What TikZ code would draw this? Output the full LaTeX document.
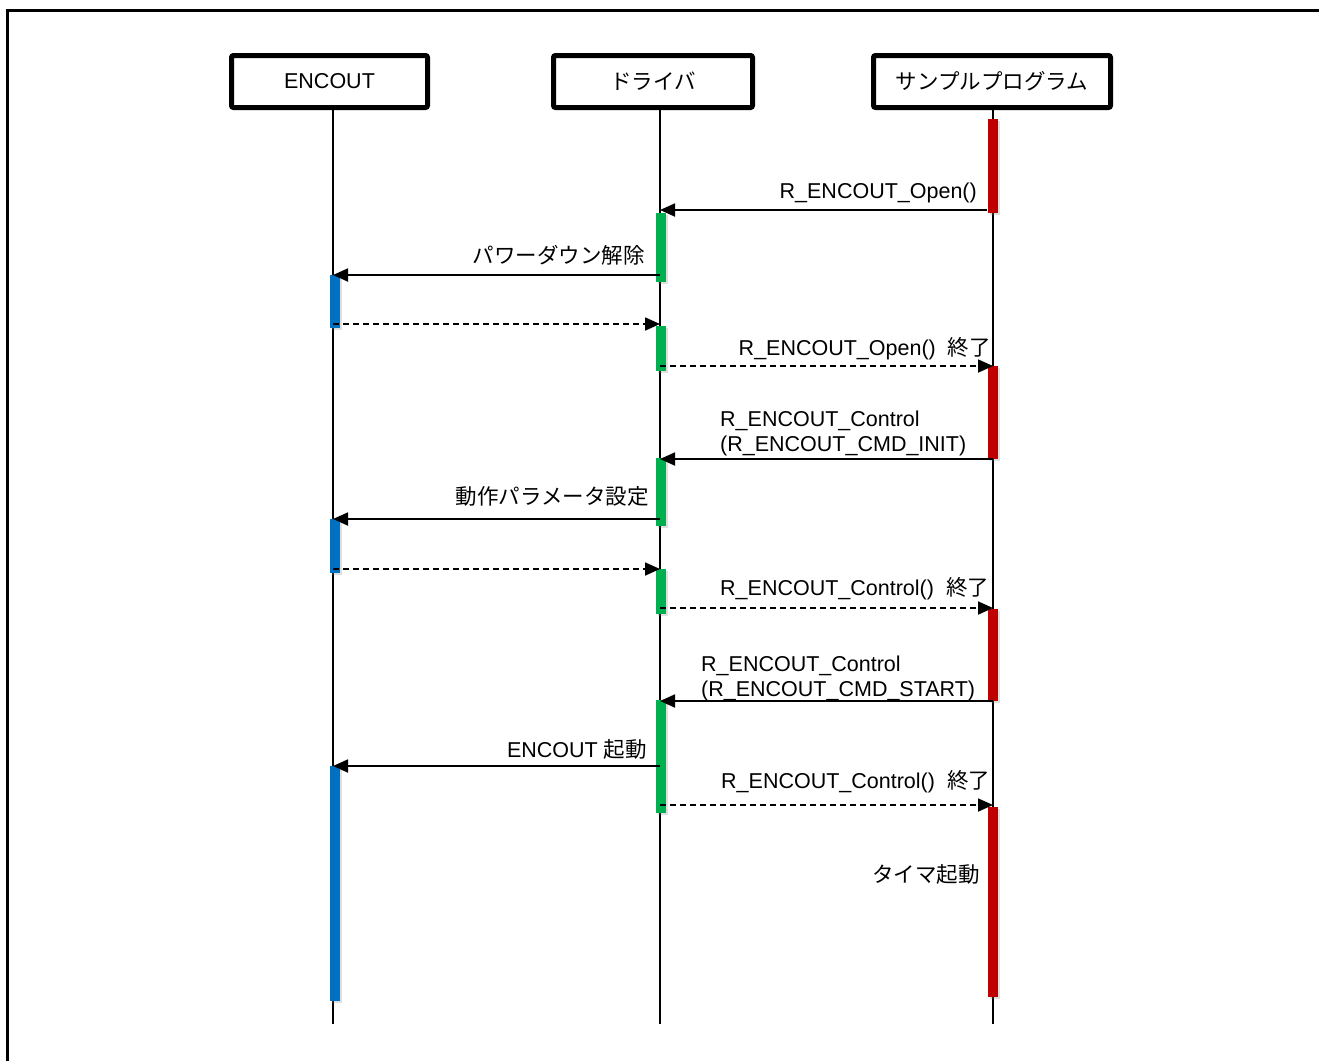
\documentclass[tikz,border=0pt]{standalone}
\usepackage{fontspec}
\setmainfont{Liberation Sans}
\newfontfamily\jp{Noto Sans CJK JP}
\usetikzlibrary{arrows.meta,shadows}
\definecolor{cred}{HTML}{C00000}
\definecolor{cgreen}{HTML}{00B050}
\definecolor{cblue}{HTML}{0070C0}
\begin{document}
\begin{tikzpicture}[x=1pt,y=-1pt,
  every node/.style={font=\fontsize{21.5}{25}\selectfont, inner sep=0pt},
  head/.style={draw, line width=5pt, rounded corners=2pt, minimum height=52pt},
  life/.style={line width=1.8pt},
  actbar/.style={minimum width=10pt, inner sep=0pt, draw=none,
    drop shadow={opacity=0.25, shadow xshift=2pt, shadow yshift=-2pt}},
  redbar/.style={actbar, fill=cred},
  greenbar/.style={actbar, fill=cgreen},
  bluebar/.style={actbar, fill=cblue},
  msg/.style={line width=1.8pt, -{Triangle[length=15pt,width=13pt]}},
  ret/.style={msg, dash pattern=on 6pt off 4pt},
  lbl/.style={align=left}
]
\useasboundingbox (0,0) rectangle (1319,1061);
% frame
\coordinate (frTL) at (7,10);
\coordinate (frTR) at (1319,10);
\coordinate (frBL) at (7,1061);
\draw[line width=3pt] (frBL) -- (frTL) -- (frTR);

% heads
\node[head, minimum width=196pt] (hEnc) at (329.5,81.5) {ENCOUT};
\node[head, minimum width=199pt] (hDrv) at (653,81.5) {\jp ドライバ};
\node[head, minimum width=237pt] (hSam) at (992,81.5) {\jp サンプルプログラム};

% lifelines
\coordinate (eEnd) at (333,1024);
\coordinate (dEnd) at (660,1024);
\coordinate (sEnd) at (993,1024);
\draw[life] (hEnc.south -| eEnd) -- (eEnd);
\draw[life] (hDrv.south -| dEnd) -- (dEnd);
\draw[life] (hSam.south -| sEnd) -- (sEnd);

% activation bars
\node[redbar, minimum height=94pt] (r1) at (992.5,166) {};
\node[redbar, minimum height=93pt] (r2) at (992.5,412.5) {};
\node[redbar, minimum height=92pt] (r3) at (992.5,655) {};
\node[redbar, minimum height=190pt] (r4) at (992.5,902) {};
\node[greenbar, minimum height=69pt] (g1) at (661,247.5) {};
\node[greenbar, minimum height=45pt] (g2) at (661,348.5) {};
\node[greenbar, minimum height=68pt] (g3) at (661,492) {};
\node[greenbar, minimum height=45pt] (g4) at (661,591.5) {};
\node[greenbar, minimum height=113pt] (g5) at (661,756.5) {};
\node[bluebar, minimum height=53pt] (b1) at (335,301.5) {};
\node[bluebar, minimum height=54pt] (b2) at (335,546) {};
\node[bluebar, minimum height=235pt] (b3) at (335,883.5) {};

% messages
\draw[msg] (r1.west |- 0,210) -- (dEnd |- 0,210);
\node[anchor=base east] (l1) at (977,198) {R\_ENCOUT\_Open()};

\draw[msg] (dEnd |- 0,275) -- (eEnd |- 0,275);
\node[anchor=base east] (l2) at (645,263) {\jp パワーダウン解除};

\draw[ret] (eEnd |- 0,324) -- (dEnd |- 0,324);

\draw[ret] (dEnd |- 0,366) -- (sEnd |- 0,366);
\node[anchor=base east] (l4) at (991,355) {R\_ENCOUT\_Open()\ \ {\jp 終了}};

\draw[msg] (sEnd |- 0,459) -- (dEnd |- 0,459);
\node[anchor=base west] (l5a) at (720,426) {R\_ENCOUT\_Control};
\node[anchor=base west] (l5b) at (720,451) {(R\_ENCOUT\_CMD\_INIT)};

\draw[msg] (dEnd |- 0,519) -- (eEnd |- 0,519);
\node[anchor=base east] (l6) at (649,504) {\jp 動作パラメータ設定};

\draw[ret] (eEnd |- 0,569) -- (dEnd |- 0,569);

\draw[ret] (dEnd |- 0,608) -- (sEnd |- 0,608);
\node[anchor=base west] (l8) at (720,595) {R\_ENCOUT\_Control()\ \ {\jp 終了}};

\draw[msg] (sEnd |- 0,701) -- (dEnd |- 0,701);
\node[anchor=base west] (l9a) at (701,671) {R\_ENCOUT\_Control};
\node[anchor=base west] (l9b) at (701,696) {(R\_ENCOUT\_CMD\_START)};

\draw[msg] (dEnd |- 0,766) -- (eEnd |- 0,766);
\node[anchor=base east] (l10) at (647,757) {ENCOUT {\jp 起動}};

\draw[ret] (dEnd |- 0,805) -- (sEnd |- 0,805);
\node[anchor=base west] (l11) at (721,788) {R\_ENCOUT\_Control()\ \ {\jp 終了}};

\node[anchor=base east] (l12) at (980,882) {\jp タイマ起動};
\end{tikzpicture}
\end{document}
